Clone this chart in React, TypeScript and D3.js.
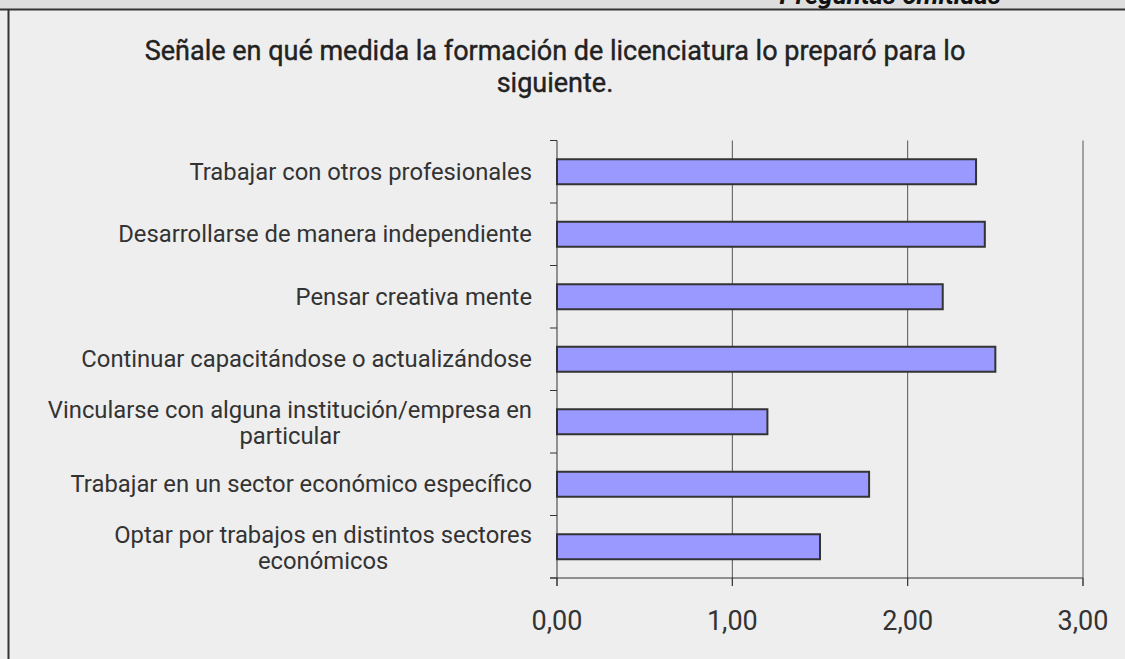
import React from "react";
import * as d3 from "d3";

const categories = [
  "Trabajar con otros profesionales",
  "Desarrollarse de manera independiente",
  "Pensar creativa mente",
  "Continuar capacitándose o actualizándose",
  "Vincularse con alguna institución/empresa en particular",
  "Trabajar en un sector económico específico",
  "Optar por trabajos en distintos sectores económicos",
];
const values = [2.39, 2.44, 2.2, 2.5, 1.2, 1.78, 1.5];
const xTicks = [0, 1, 2, 3];
const tickLabels = ["0,00", "1,00", "2,00", "3,00"];
const titleLines = [
  "Señale en qué medida la formación de licenciatura lo preparó para lo",
  "siguiente.",
];
const headerText = "Preguntas omitidas";

const W = 1125;
const H = 659;
const LABEL_SIZE = 23.8;
const LABEL_FONT = `${LABEL_SIZE}px Roboto`;

let ctx: CanvasRenderingContext2D | null = null;
function measure(t: string, font: string) {
  if (!ctx) ctx = document.createElement("canvas").getContext("2d");
  if (!ctx) return t.length * 11;
  ctx.font = font;
  return ctx.measureText(t).width;
}

function wrap(text: string, maxW: number, font: string) {
  const words = text.split(" ");
  const lines: string[] = [];
  let cur = "";
  for (const w of words) {
    const test = cur ? cur + " " + w : w;
    if (cur && measure(test, font) > maxW) {
      lines.push(cur);
      cur = w;
    } else cur = test;
  }
  if (cur) lines.push(cur);
  return lines;
}

export default function App() {
  const x = d3.scaleLinear().domain([0, 3]).range([557, 1083]);
  const y = d3
    .scaleBand<string>()
    .domain(categories)
    .range([140.5, 578])
    .paddingInner(0.6)
    .paddingOuter(0.3);
  const step = y.step();
  const [y0, y1] = y.range();
  const bounds = d3.range(categories.length + 1).map((i) => y0 + i * step);
  const labelRight = 532;
  const lh = 26;

  return (
    <svg
      width={W}
      height={H}
      style={{ position: "absolute", left: 0, top: 0, display: "block" }}
      fontFamily="Roboto, 'Noto Sans', sans-serif"
    >
      <rect x={0} y={0} width={W} height={H} fill="#eeeeee" />
      <rect x={0} y={0} width={W} height={9} fill="#dedede" />
      <text
        x={1001}
        y={4}
        textAnchor="end"
        fontSize={26}
        fontWeight="bold"
        fontStyle="italic"
        fill="#111"
      >
        {headerText}
      </text>
      <line x1={0} x2={W} y1={9.5} y2={9.5} stroke="#333" strokeWidth={2} />
      <line x1={8.5} x2={8.5} y1={9} y2={H} stroke="#333" strokeWidth={2} />

      {titleLines.map((t, i) => (
        <text
          key={i}
          x={555}
          y={60 + i * 32}
          textAnchor="middle"
          fontSize={27}
          fontWeight="normal"
          fill="#222"
          stroke="#222"
          strokeWidth={0.4}
        >
          {t}
        </text>
      ))}

      {/* gridlines */}
      {xTicks.slice(1).map((t) => (
        <line
          key={t}
          x1={x(t)}
          x2={x(t)}
          y1={y0}
          y2={y1 + 8}
          stroke="#555"
          strokeWidth={1}
        />
      ))}

      {/* bars */}
      {categories.map((c, i) => (
        <rect
          key={c}
          x={x(0)}
          y={y(c)}
          width={x(values[i]) - x(0)}
          height={y.bandwidth()}
          fill="#9999ff"
          stroke="#333"
          strokeWidth={2}
        />
      ))}

      {/* y axis */}
      <line x1={x(0)} x2={x(0)} y1={y0} y2={y1 + 8} stroke="#333" strokeWidth={1} />
      {bounds.map((b, i) => (
        <line key={i} x1={x(0) - 7} x2={x(0)} y1={b} y2={b} stroke="#333" strokeWidth={1} />
      ))}
      {/* x axis */}
      <line x1={x(0) - 7} x2={x(3)} y1={y1} y2={y1} stroke="#333" strokeWidth={1} />
      {xTicks.map((t) => (
        <line key={t} x1={x(t)} x2={x(t)} y1={y1} y2={y1 + 8} stroke="#333" strokeWidth={1} />
      ))}
      {xTicks.map((t, i) => (
        <text
          key={t}
          x={x(t)}
          y={630}
          textAnchor="middle"
          fontSize={27}
          fill="#333"
        >
          {tickLabels[i]}
        </text>
      ))}

      {/* category labels */}
      {categories.map((c) => {
        const lines = wrap(c, 495, LABEL_FONT);
        const maxW = d3.max(lines, (l) => measure(l, LABEL_FONT)) || 0;
        const cx = labelRight - maxW / 2;
        const center = (y(c) || 0) + y.bandwidth() / 2;
        const first = center + 8 - ((lines.length - 1) * lh) / 2 + (lines.length > 1 ? 1 : 0);
        return (
          <text key={c} textAnchor="middle" fontSize={LABEL_SIZE} fill="#333">
            {lines.map((l, j) => (
              <tspan key={j} x={cx} y={first + j * lh}>
                {l}
              </tspan>
            ))}
          </text>
        );
      })}
    </svg>
  );
}
